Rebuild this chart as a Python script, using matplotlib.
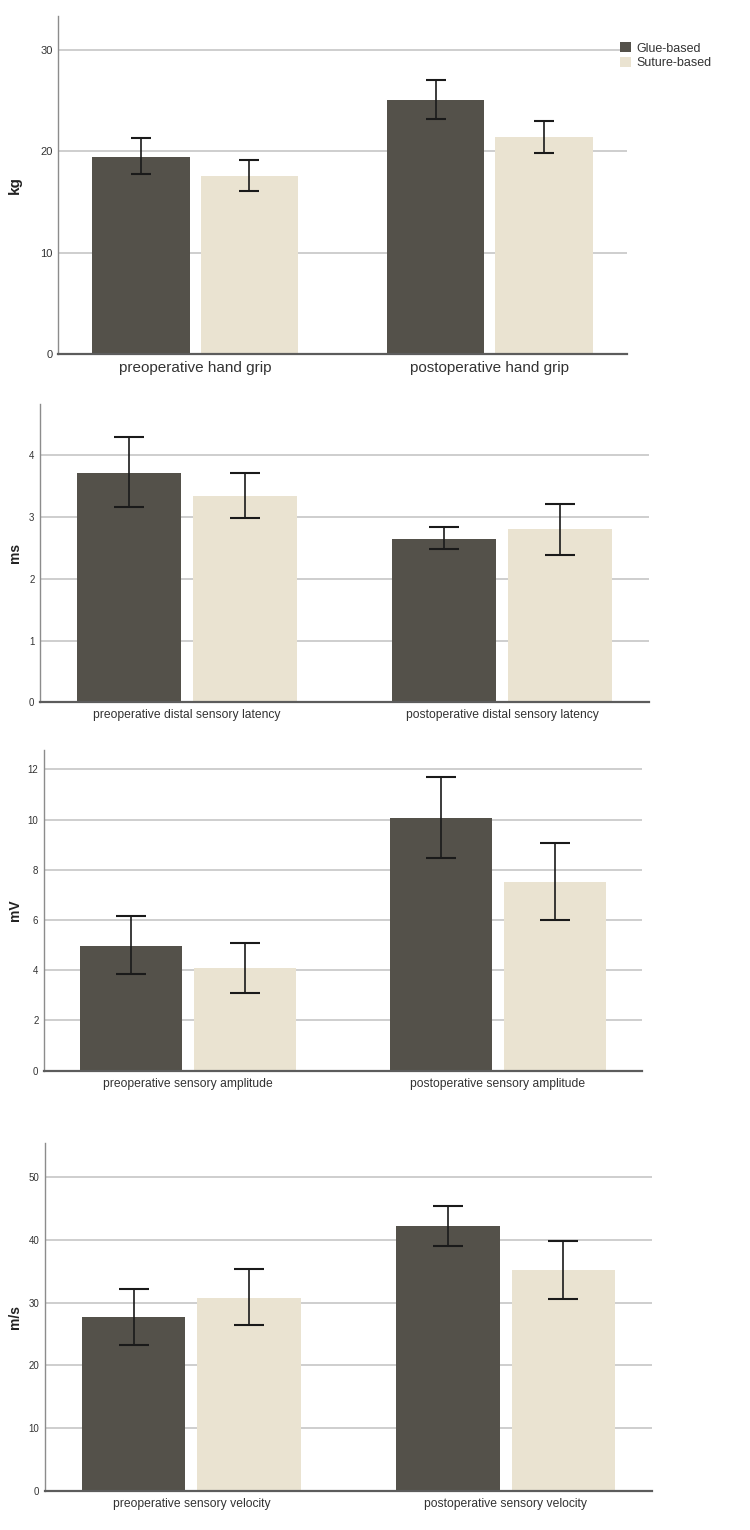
import matplotlib
matplotlib.use("Agg")
import matplotlib.pyplot as plt
from matplotlib.patches import Patch

# ---------------- data ----------------
groups = ["Glue-based", "Suture-based"]

cats_grip = ["preoperative hand grip", "postoperative hand grip"]
glue_grip = [19.45, 25.1]
glue_grip_lo = [17.8, 23.2]
glue_grip_hi = [21.3, 27.05]
sut_grip = [17.6, 21.4]
sut_grip_lo = [16.1, 19.85]
sut_grip_hi = [19.15, 23.0]

cats_lat = ["preoperative distal sensory latency", "postoperative distal sensory latency"]
glue_lat = [3.72, 2.65]
glue_lat_lo = [3.16, 2.48]
glue_lat_hi = [4.30, 2.84]
sut_lat = [3.34, 2.81]
sut_lat_lo = [2.98, 2.39]
sut_lat_hi = [3.71, 3.21]

cats_amp = ["preoperative sensory amplitude", "postoperative sensory amplitude"]
glue_amp = [4.95, 10.07]
glue_amp_lo = [3.84, 8.48]
glue_amp_hi = [6.17, 11.68]
sut_amp = [4.08, 7.52]
sut_amp_lo = [3.09, 5.99]
sut_amp_hi = [5.10, 9.08]

cats_vel = ["preoperative sensory velocity", "postoperative sensory velocity"]
glue_vel = [27.7, 42.2]
glue_vel_lo = [23.3, 39.0]
glue_vel_hi = [32.2, 45.4]
sut_vel = [30.8, 35.2]
sut_vel_lo = [26.4, 30.55]
sut_vel_hi = [35.4, 39.85]

ylabels = ["kg", "ms", "mV", "m/s"]
yticks = [[0, 10, 20, 30], [0, 1, 2, 3, 4], [0, 2, 4, 6, 8, 10, 12], [0, 10, 20, 30, 40, 50]]
ytops = [33.4, 4.83, 12.77, 55.5]

# ---------------- style ----------------
DARK = "#54514A"
BEIGE = "#EAE3D1"
GRID = "#CACACA"
W = 750.0
H = 1530.0

# axes boxes in pixels: left, right, top, bottom
boxes = [(58, 627, 15.5, 354), (40, 649, 404, 702.3), (44, 642, 750, 1070.7), (45, 652, 1142.7, 1490.7)]

panels = [
    (cats_grip, glue_grip, glue_grip_lo, glue_grip_hi, sut_grip, sut_grip_lo, sut_grip_hi),
    (cats_lat, glue_lat, glue_lat_lo, glue_lat_hi, sut_lat, sut_lat_lo, sut_lat_hi),
    (cats_amp, glue_amp, glue_amp_lo, glue_amp_hi, sut_amp, sut_amp_lo, sut_amp_hi),
    (cats_vel, glue_vel, glue_vel_lo, glue_vel_hi, sut_vel, sut_vel_lo, sut_vel_hi),
]

fig = plt.figure(figsize=(7.5, 15.3), dpi=100)
fig.patch.set_facecolor("white")

WIDE = ["Liberation Sans", "DejaVu Sans"]

for i, (box, pdata) in enumerate(zip(boxes, panels)):
    l, r, t, b = box
    ax = fig.add_axes([l / W, 1 - b / H, (r - l) / W, (b - t) / H])
    cats, gm, glo, ghi, sm, slo, shi = pdata
    x = list(range(len(cats)))
    off = 0.184
    bw = 0.33
    capsize = 7 if i == 0 else 10.5
    for xs, m, lo, hi, col in [
        ([v - off for v in x], gm, glo, ghi, DARK),
        ([v + off for v in x], sm, slo, shi, BEIGE),
    ]:
        ax.bar(xs, m, width=bw, color=col, zorder=2)
        yerr = [[mm - ll for mm, ll in zip(m, lo)], [hh - mm for mm, hh in zip(m, hi)]]
        ax.errorbar(xs, m, yerr=yerr, fmt="none", ecolor="#1a1a1a", elinewidth=1.2,
                    capsize=capsize, capthick=1.5, zorder=3)
    ax.set_xlim(-0.466, 1.466)
    ax.set_ylim(0, ytops[i])
    ax.set_yticks(yticks[i])
    for yv in yticks[i][1:]:
        ax.axhline(yv, color=GRID, lw=1.3, zorder=1)
    ax.set_xticks(x)
    if i == 0:
        ax.set_xticklabels(cats, fontsize=11, family=WIDE, color="#333333")
        ax.tick_params(axis="y", labelsize=8, pad=4)
    else:
        ax.set_xticklabels(cats, fontsize=8.7, family=WIDE, color="#333333")
        ax.tick_params(axis="y", labelsize=7, pad=4)
    for lab in ax.get_yticklabels():
        lab.set_family(WIDE)
    ax.tick_params(axis="both", length=0, colors="#333333")
    ax.tick_params(axis="x", pad=5)
    for s in ["top", "right"]:
        ax.spines[s].set_visible(False)
    ax.spines["left"].set_color("#8C8C8C")
    ax.spines["left"].set_linewidth(1.0)
    ax.spines["bottom"].set_color("#5C5C5C")
    ax.spines["bottom"].set_linewidth(1.6)
    ax.spines["bottom"].set_zorder(4)
    # y label
    fig.text(15 / W, 1 - ((t + b) / 2) / H, ylabels[i], rotation=90, ha="center", va="center",
             fontsize=11 if i == 0 else 10, fontweight="bold", family=WIDE, color="#222222")

    if i == 0:
        handles = [Patch(facecolor=DARK), Patch(facecolor=BEIGE)]
        leg = ax.legend(handles, groups, loc="upper left", bbox_to_anchor=(620 / W, 1 - 42 / H),
                        bbox_transform=fig.transFigure, frameon=False, fontsize=9,
                        handlelength=0.9, handleheight=0.9, handletextpad=0.4,
                        labelspacing=0.2, borderpad=0, borderaxespad=0)
        for txt in leg.get_texts():
            txt.set_family(WIDE)
            txt.set_color("#333333")

fig.savefig("out.png", dpi=100)
